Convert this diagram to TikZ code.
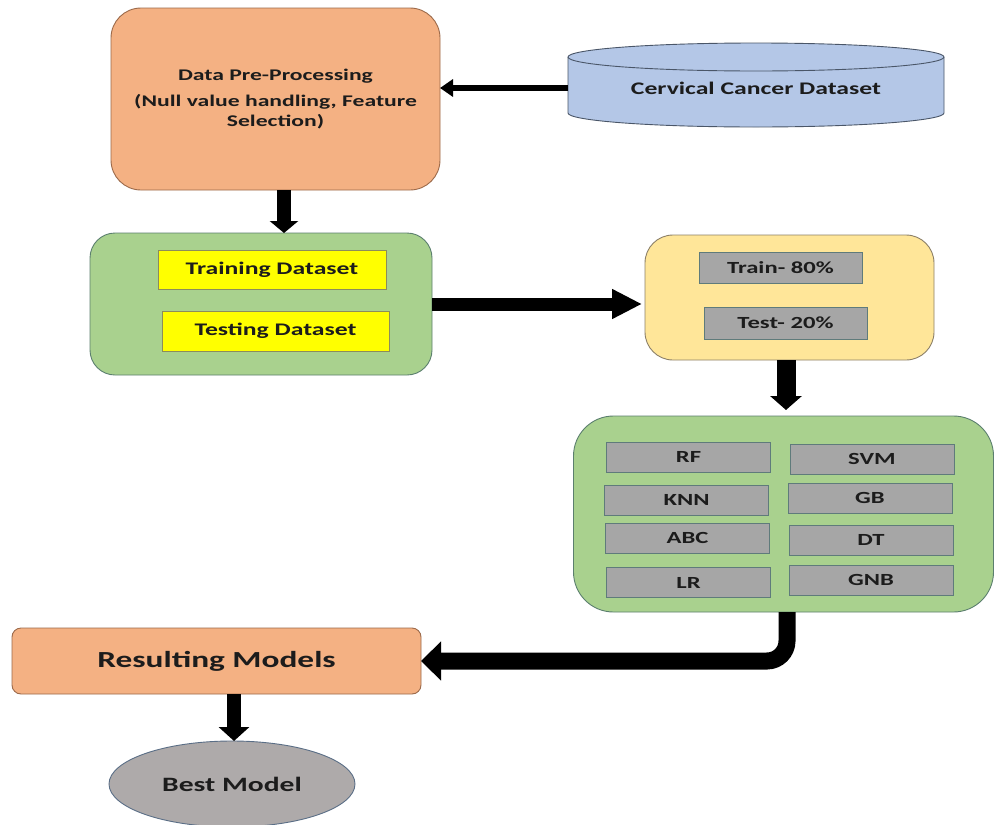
\documentclass[tikz,border=0pt]{standalone}
\usepackage{fontspec}
\setmainfont{Carlito}
\usetikzlibrary{arrows.meta,shapes.geometric,calc}
\definecolor{salmon}{HTML}{F4B183}
\definecolor{salmonline}{HTML}{9C6A4A}
\definecolor{cylblue}{HTML}{B4C7E7}
\definecolor{cylline}{HTML}{4A5668}
\definecolor{grn}{HTML}{A9D18E}
\definecolor{grnline}{HTML}{5B7F6E}
\definecolor{ylw}{HTML}{FFFF00}
\definecolor{ylwline}{HTML}{8C8C5A}
\definecolor{lylw}{HTML}{FFE699}
\definecolor{lylwline}{HTML}{8C8068}
\definecolor{gry}{HTML}{A6A6A6}
\definecolor{gryline}{HTML}{5F7B7B}
\definecolor{ellgray}{HTML}{AEAAAA}
\definecolor{ellline}{HTML}{5A6E86}
\definecolor{txt}{HTML}{1C1C1C}
\newcommand{\sx}[1]{\scalebox{1.45}[1]{#1}}
\tikzset{
  base/.style={inner sep=0pt, outer sep=0pt, text=txt, line width=0.9pt},
  ftA/.style={font=\fontsize{16.3}{19.5}\selectfont\bfseries},
  ftB/.style={font=\fontsize{17.7}{21}\selectfont\bfseries},
  ftC/.style={font=\fontsize{17}{20}\selectfont\bfseries},
  ftD/.style={font=\fontsize{23}{27}\selectfont\bfseries},
  ftE/.style={font=\fontsize{20.4}{24}\selectfont\bfseries},
  ybox/.style={base, draw=ylwline, fill=ylw, ftB},
  gbox/.style={base, draw=gryline, fill=gry, ftC},
  mbox/.style={gbox, minimum width=164pt, minimum height=30pt},
  fat/.style={line width=#1, draw=black},
}
\begin{document}
\begin{tikzpicture}[x=1pt,y=-1pt]
\useasboundingbox (0,0) rectangle (994,825);
\fill[white] (0,0) rectangle (994,825);

% Data pre-processing
\node[base, draw=salmonline, fill=salmon, rounded corners=30pt,
      minimum width=329pt, minimum height=182pt, ftA, align=center]
      (pre) at (275.5,99)
      {\sx{Data Pre-Processing}\\[7pt]\sx{(Null value handling, Feature}\\\sx{Selection)}};

% Cylinder
\draw[cylline, line width=0.9pt, fill=cylblue]
  (568,57) -- (568,113) arc[start angle=180, end angle=360, x radius=188pt, y radius=14pt]
  -- (944,57) arc[start angle=0, end angle=180, x radius=188pt, y radius=14pt] -- cycle;
\draw[cylline, line width=0.9pt]
  (568,57) arc[start angle=180, end angle=360, x radius=188pt, y radius=14pt];
\node[base, minimum width=376pt, minimum height=60pt, ftB] (cyl) at (756,88) {\sx{Cervical Cancer Dataset}};

% Green box 1
\node[base, draw=grnline, fill=grn, rounded corners=25pt,
      minimum width=342pt, minimum height=142pt] (g1) at (261,304) {};
\node[ybox, minimum width=228pt, minimum height=39pt] (train) at (272,269.5) {\sx{Training Dataset}};
\node[ybox, minimum width=227pt, minimum height=40pt] (test) at (275.5,331) {\sx{Testing Dataset}};

% Yellow box
\node[base, draw=lylwline, fill=lylw, rounded corners=28pt,
      minimum width=289pt, minimum height=125pt] (yb) at (789.5,297.5) {};
\node[gbox, minimum width=163pt, minimum height=31pt] (tr80) at (780.5,267.5) {\sx{Train- 80\%}};
\node[gbox, minimum width=163pt, minimum height=32pt] (te20) at (785.5,323) {\sx{Test- 20\%}};

% Green box 2
\node[base, draw=grnline, fill=grn, rounded corners=40pt,
      minimum width=420pt, minimum height=196pt] (g2) at (783.5,514) {};
\node[mbox] (rf)  at (688.5,457) {\sx{RF}};
\node[mbox] (svm) at (872,459)   {\sx{SVM}};
\node[mbox] (knn) at (686.5,500) {\sx{KNN}};
\node[mbox] (gb)  at (870,498)   {\sx{GB}};
\node[mbox] (abc) at (687.5,538) {\sx{ABC}};
\node[mbox] (dt)  at (871,540)   {\sx{DT}};
\node[mbox] (lr)  at (688.5,582.5) {\sx{LR}};
\node[mbox] (gnb) at (871,580)   {\sx{GNB}};

% Resulting models
\node[base, draw=salmonline, fill=salmon, rounded corners=9pt,
      minimum width=409pt, minimum height=66pt, ftD] (rm) at (216.5,661) {\sx{Resulting Models}};

% Best model
\node[base, ellipse, draw=ellline, fill=ellgray, minimum width=246pt, minimum height=86pt, ftE]
      (best) at (232,784) {\sx{Best Model}};

% Connectors
\draw[fat=6.5pt, -{Triangle[width=17pt,length=13pt]}] (cyl.west) -- (cyl.west -| pre.east);
\draw[fat=14pt, -{Triangle[width=28pt,length=12pt]}] ([xshift=8.5pt]pre.south) -- ([xshift=8.5pt]pre.south |- g1.north);
\draw[fat=13pt, -{Triangle[width=28pt,length=30pt]}] (g1.east) -- ([xshift=-3pt]g1.east -| yb.west);
\draw[fat=19pt, -{Triangle[width=31pt,length=14pt]}] ([xshift=-3.5pt]yb.south) -- ([xshift=-3.5pt,yshift=6pt]yb.south |- g2.north);
\draw[fat=17pt, rounded corners=20pt, -{Triangle[width=38pt,length=20pt]}] ([xshift=3.5pt]g2.south) |- (rm.east);
\draw[fat=14pt, -{Triangle[width=30pt,length=14pt]}] ([xshift=17.5pt]rm.south) -- ([xshift=17.5pt]rm.south |- best.north);
\end{tikzpicture}
\end{document}
